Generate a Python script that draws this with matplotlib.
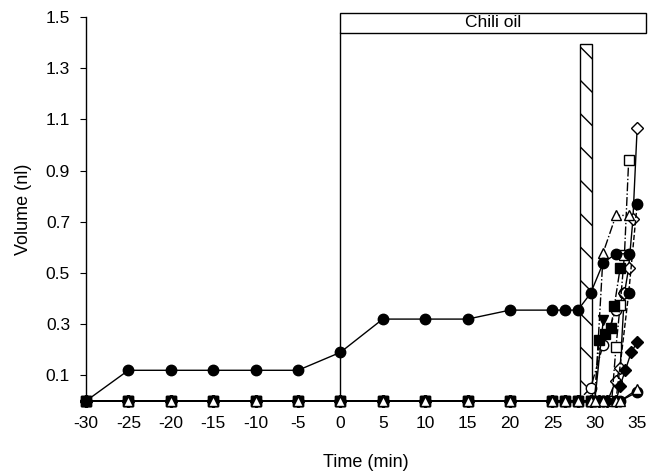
import matplotlib
matplotlib.use("Agg")
import matplotlib.pyplot as plt
from matplotlib.patches import Rectangle

plt.rcParams['font.family'] = ['Liberation Sans', 'DejaVu Sans']
plt.rcParams['axes.unicode_minus'] = False

# shared sampling before the rise (min)
early_t = [-30, -25, -20, -15, -10, -5, 0, 5, 10, 15, 20, 25, 26.5, 28]
zeros = [0] * len(early_t)

# cell 1 (filled circles) - grows during chili oil
c1_early = [0, 0.12, 0.12, 0.12, 0.12, 0.12, 0.19, 0.32, 0.32, 0.32, 0.355, 0.355, 0.355, 0.355]
c1_t = [29.5, 31, 32.5, 34]
c1_v = [0.42, 0.54, 0.575, 0.575]

# other cells: late time points and volumes
tri_t = [29.5, 30, 31, 32.5, 34]
tri_v = [0, 0, 0.58, 0.725, 0.725]

osq_t = [29.5, 31, 32, 32.5, 33, 33.5, 34]
osq_v = [0, 0, 0, 0.21, 0.375, 0.57, 0.94]

odia_t = [29.5, 30.5, 31.5, 32.5, 33, 33.5, 34, 34.5, 35]
odia_v = [0, 0, 0, 0.08, 0.13, 0.42, 0.52, 0.71, 1.066]

fsq_t = [29.5, 30, 30.5, 31.2, 31.9, 32.3, 33]
fsq_v = [0, 0, 0.24, 0.26, 0.285, 0.37, 0.52]

itri_t = [29.5, 30, 31]
itri_v = [0, 0, 0.315]

ocir_t = [29.5, 31, 32.5, 33.5]
ocir_v = [0.05, 0.22, 0.355, 0.42]

fdia_t = [29.5, 30.5, 31.5, 32.5, 33, 33.6, 34.3, 35]
fdia_v = [0, 0, 0, 0, 0.06, 0.12, 0.19, 0.23]

c9_t = [29.5, 31, 32.5, 33, 35]
c9_v = [0, 0, 0, 0, 0.035]

tri2_t = [29.5, 31, 32.5, 33, 35]
tri2_v = [0, 0, 0, 0, 0.045]

c11_t = [29.5, 31, 32.5, 34, 35]
c11_v = [0, 0, 0, 0.42, 0.77]

fig = plt.figure(figsize=(6.58, 4.72), dpi=100)
ax = fig.add_axes([0.1307, 0.1504, 0.8505, 0.8136])

# chili oil bar and hatched pulse
ax.add_patch(Rectangle((0, 1.438), 36, 0.078, fill=False, ec='black', lw=1, clip_on=False))
ax.plot([0, 0], [0, 1.438], color='black', lw=1, clip_on=False)
ax.text(18, 1.477, 'Chili oil', ha='center', va='center', fontsize=12.5)
ax.add_patch(Rectangle((28.3, 0), 1.4, 1.395, fill=False, ec='black', lw=1, hatch='\\'))

kw = dict(color='black', lw=1, mec='black', mew=1, clip_on=False)
series = [
    (ocir_t, ocir_v, 'o', 'white', '-.'),
    (odia_t, odia_v, 'D', 'white', '-'),
    (osq_t, osq_v, 's', 'white', '-.'),
    (fsq_t, fsq_v, 's', 'black', '-.'),
    (fdia_t, fdia_v, 'D', 'black', '-'),
    (itri_t, itri_v, 'v', 'black', '-'),
    (c9_t, c9_v, 'o', 'black', '-'),
    (c11_t, c11_v, 'o', 'black', '--'),
    (tri2_t, tri2_v, '^', 'white', '-'),
    (tri_t, tri_v, '^', 'white', '-.'),
]
sizes = {'o': 7.5, '^': 7, 'v': 7.5, 's': 6.5, 'D': 6}
for t, v, m, fc, ls in series:
    ax.plot(early_t + t, zeros + v, marker=m, mfc=fc, ls=ls, ms=sizes[m], **kw)
ax.plot(early_t + c1_t, c1_early + c1_v, marker='o', mfc='black', ls='-', ms=7.5, **kw)

ax.set_xlim(-30, 36)
ax.set_ylim(0, 1.5)
ax.set_xticks(range(-30, 36, 5))
ax.set_yticks([0.1, 0.3, 0.5, 0.7, 0.9, 1.1, 1.3, 1.5])
ax.set_yticklabels(['0.1', '0.3', '0.5', '0.7', '0.9', '1.1', '1.3', '1.5'])
ax.tick_params(axis='x', length=0, pad=11, labelsize=12.5)
ax.tick_params(axis='y', length=4.5, direction='out', labelsize=12.5, pad=7)
for s in ('top', 'right', 'bottom'):
    ax.spines[s].set_visible(False)
ax.spines['left'].set_linewidth(1)
ax.set_xlabel('Time (min)', fontsize=13, labelpad=16)
ax.set_ylabel('Volume (nl)', fontsize=13, labelpad=10)

fig.savefig('out.png', dpi=100)
